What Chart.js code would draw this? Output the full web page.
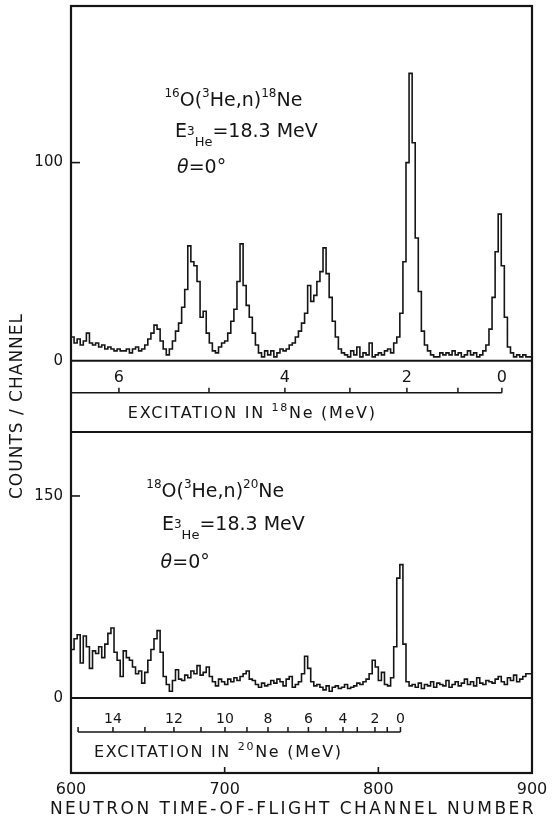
<!DOCTYPE html>
<html><head><meta charset="utf-8">
<script src="https://cdn.jsdelivr.net/npm/chart.js@4.4.1/dist/chart.umd.min.js"></script>
<style>html,body{margin:0;padding:0;background:#fff}canvas{display:block}</style>
</head><body>
<canvas id="c" width="552" height="822"></canvas>
<script>
// ---------- data ----------
const channelStart = 600;   // first channel of first bin
const binWidth = 2;         // channels per bin
// 16O(3He,n)18Ne counts per channel, 2-channel bins from 600
const counts18Ne = [
  10,12,9,11,8,10,14,9,8,9, 7,8,6,7,6,5,6,5,5,6,
  4,6,7,5,6,8,11,14,18,16, 10,6,3,6,10,15,19,27,36,58,
  50,48,40,22,25,14,9,5,4,7, 9,10,14,20,26,40,59,38,28,22,
  14,8,4,2,5,3,5,2,4,6, 5,6,8,9,12,15,19,24,38,30,
  33,40,45,57,44,32,20,12,6,4, 3,2,5,3,7,2,4,3,9,2,
  3,4,3,5,6,4,9,12,24,50, 100,145,110,62,35,15,8,5,3,2,
  2,4,3,4,3,5,3,4,2,3, 5,3,4,2,3,5,8,16,32,55,
  74,48,22,7,4,2,3,2,3,2
];
// 18O(3He,n)20Ne counts per channel, 2-channel bins from 600
const counts20Ne = [
  40,36,44,47,26,46,38,22,35,33, 38,30,40,48,52,34,28,16,35,30,
  28,23,18,20,11,19,28,36,44,50, 34,16,10,5,13,21,14,13,17,15,
  20,18,24,17,19,23,16,12,9,14, 12,10,14,12,15,13,16,18,20,14,
  13,10,8,11,9,10,13,11,14,12, 9,14,16,8,10,12,18,31,22,12,
  9,10,8,6,9,5,8,9,7,8, 10,7,8,9,11,10,12,14,18,28,
  23,13,19,10,9,15,38,89,99,40, 12,9,10,8,11,7,10,9,12,8,
  11,10,9,13,8,10,12,9,11,14, 10,12,9,15,11,10,13,12,11,14,
  16,12,10,15,13,17,12,14,16,18
];
const xTickValues = [600, 700, 800, 900];
const yTicksTop = [0, 100];
const yTicksBottom = [0, 150];
// excitation-energy scales (MeV) and the channel each falls on
const exc18MeV     = [6, 5, 4, 3, 2, 1, 0];
const exc18Channel = [631.2, 689.8, 739.2, 781.5, 818.6, 851.8, 880.4];
const exc18Labeled = [6, 4, 2, 0];
const exc20MeV     = [15, 14, 13, 12, 11, 10, 9, 8, 7, 6, 5, 4, 3, 2, 1, 0];
const exc20Channel = [604.6, 627.3, 648.1, 667.0, 684.6, 700.2, 714.5, 728.2, 741.2, 754.5, 765.9, 777.0, 786.3, 797.8, 805.8, 814.4];
const exc20Labeled = [14, 12, 10, 8, 6, 4, 2, 0];

// ---------- helpers ----------
const FONT = '"DejaVu Sans", sans-serif';
const INK = '#151515';
function toPoints(arr) {
  const pts = arr.map((v, i) => ({x: channelStart + i * binWidth, y: v}));
  pts.push({x: channelStart + arr.length * binWidth, y: arr[arr.length - 1]});
  return pts;
}
function fixedTicks(values) {
  return s => { s.ticks = values.map(v => ({value: v})); };
}
function rich(ctx, x, y, parts) {
  for (const p of parts) {
    ctx.font = (p.st || '') + ' ' + p.s + 'px ' + FONT;
    ctx.fillText(p.t, x, y + (p.dy || 0));
    x += ctx.measureText(p.t).width;
  }
  return x;
}
function seg(ctx, x1, y1, x2, y2) { ctx.beginPath(); ctx.moveTo(x1, y1); ctx.lineTo(x2, y2); ctx.stroke(); }

const decor = {
  id: 'decor',
  afterDatasetsDraw(chart) {
    const {ctx, chartArea: a, scales} = chart;
    const x = scales.x, yT = scales.yTop, yB = scales.yBot;
    ctx.save();
    ctx.strokeStyle = INK; ctx.fillStyle = INK; ctx.lineCap = 'butt';
    // frame, separator, zero lines
    ctx.lineWidth = 2.2;
    ctx.strokeRect(a.left, a.top, a.right - a.left, a.bottom - a.top);
    seg(ctx, a.left, yT.bottom, a.right, yT.bottom);
    const z0T = yT.getPixelForValue(0), z0B = yB.getPixelForValue(0);
    ctx.lineWidth = 2;
    seg(ctx, a.left, z0T, a.right, z0T);
    seg(ctx, a.left, z0B, a.right, z0B);
    // inward ticks
    ctx.lineWidth = 1.6;
    for (const v of yTicksTop) if (v) { const p = yT.getPixelForValue(v); seg(ctx, a.left, p, a.left + 9, p); }
    for (const v of yTicksBottom) if (v) { const p = yB.getPixelForValue(v); seg(ctx, a.left, p, a.left + 9, p); }
    for (const v of xTickValues) { const p = x.getPixelForValue(v); seg(ctx, p, a.bottom, p, a.bottom - 6); }

    // excitation scale 18Ne
    ctx.textAlign = 'center'; ctx.textBaseline = 'middle';
    const l18 = z0T + 32;
    ctx.lineWidth = 1.5;
    seg(ctx, a.left, l18, x.getPixelForValue(exc18Channel[exc18Channel.length - 1]), l18);
    exc18MeV.forEach((m, i) => {
      const p = x.getPixelForValue(exc18Channel[i]);
      seg(ctx, p, l18, p, l18 - 5);
      if (exc18Labeled.includes(m)) { ctx.font = '16px ' + FONT; ctx.fillText(String(m), p, l18 - 15); }
    });
    // excitation scale 20Ne
    const l20 = z0B + 34;
    seg(ctx, x.getPixelForValue(exc20Channel[0]), l20, x.getPixelForValue(exc20Channel[exc20Channel.length - 1]), l20);
    exc20MeV.forEach((m, i) => {
      const p = x.getPixelForValue(exc20Channel[i]);
      seg(ctx, p, l20, p, l20 - 5);
      if (exc20Labeled.includes(m)) { ctx.font = '14px ' + FONT; ctx.fillText(String(m), p, l20 - 13); }
    });

    ctx.textAlign = 'left'; ctx.textBaseline = 'alphabetic';
    // excitation titles
    ctx.letterSpacing = '1.7px';
    rich(ctx, x.getPixelForValue(637), l18 + 25, [
      {t: 'EXCITATION IN ', s: 16}, {t: '18', s: 11, dy: -7}, {t: 'Ne (MeV)', s: 16}]);
    rich(ctx, x.getPixelForValue(615), l20 + 25, [
      {t: 'EXCITATION IN ', s: 16}, {t: '20', s: 11, dy: -7}, {t: 'Ne (MeV)', s: 16}]);
    ctx.letterSpacing = '0px';

    // reaction annotations
    const ann = (yS, ch, base1, base2, base3, A, Z) => {
      rich(ctx, x.getPixelForValue(ch[0]), yS.getPixelForValue(base1), [
        {t: A, s: 12, dy: -9}, {t: 'O(', s: 19}, {t: '3', s: 12, dy: -9},
        {t: 'He,n)', s: 19}, {t: Z, s: 12, dy: -9}, {t: 'Ne', s: 19}]);
      rich(ctx, x.getPixelForValue(ch[1]), yS.getPixelForValue(base2), [
        {t: 'E', s: 19}, {t: '3', s: 12, dy: -2}, {t: 'He', s: 13, dy: 9}, {t: '=18.3 MeV', s: 19}]);
      rich(ctx, x.getPixelForValue(ch[2]), yS.getPixelForValue(base3), [
        {t: 'θ', s: 19, st: 'italic'}, {t: '=0°', s: 19}]);
    };
    ann(yT, [660.8, 667.7, 669], 128.5, 113, 95, '16', '18');
    ann(yB, [649, 659.2, 658.3], 149.2, 124.7, 96.5, '18', '20');

    // axis titles
    ctx.font = '17px ' + FONT;
    ctx.letterSpacing = '2.5px';
    ctx.textAlign = 'center'; ctx.textBaseline = 'middle';
    ctx.fillText('NEUTRON TIME-OF-FLIGHT CHANNEL NUMBER', 293, 810);
    ctx.letterSpacing = '1px';
    ctx.save();
    ctx.translate(18, 406);
    ctx.rotate(-Math.PI / 2);
    ctx.fillText('COUNTS / CHANNEL', 0, 0);
    ctx.restore();
    ctx.restore();
  }
};

const yCommon = {
  type: 'linear', position: 'left', stack: 'panels',
  grid: {display: false, drawTicks: false}, border: {display: false},
  ticks: {font: {family: FONT, size: 15}, color: INK, padding: 8},
  afterFit: s => { s.width = 71; s.paddingTop = 0; s.paddingBottom = 0; }
};

new Chart(document.getElementById('c'), {
  type: 'line',
  data: {
    datasets: [
      {label: '18Ne', data: toPoints(counts18Ne), yAxisID: 'yTop', xAxisID: 'x', stepped: 'after',
       borderColor: INK, borderWidth: 1.6, pointRadius: 0, fill: false},
      {label: '20Ne', data: toPoints(counts20Ne), yAxisID: 'yBot', xAxisID: 'x', stepped: 'after',
       borderColor: INK, borderWidth: 1.6, pointRadius: 0, fill: false}
    ]
  },
  options: {
    responsive: false, animation: false,
    layout: {padding: {left: 0, right: 20, top: 6, bottom: 0}},
    plugins: {legend: {display: false}, tooltip: {enabled: false}},
    scales: {
      x: {type: 'linear', position: 'bottom', min: 600, max: 900,
          grid: {display: false, drawTicks: false}, border: {display: false},
          afterBuildTicks: fixedTicks(xTickValues),
          ticks: {font: {family: FONT, size: 16}, color: INK, padding: 7, maxRotation: 0, autoSkip: false},
          afterFit: s => { s.height = 49; s.paddingLeft = 0; s.paddingRight = 0; }},
      yBot: Object.assign({}, yCommon, {min: -55.7, max: 197.5, stackWeight: 341,
          afterBuildTicks: fixedTicks(yTicksBottom)}),
      yTop: Object.assign({}, yCommon, {min: -35.9, max: 179, stackWeight: 426,
          afterBuildTicks: fixedTicks(yTicksTop)})
    }
  },
  plugins: [decor]
});
</script>
</body></html>
